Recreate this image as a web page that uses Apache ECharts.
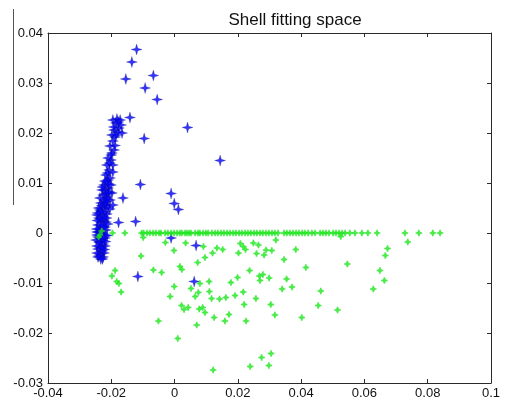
<!DOCTYPE html>
<html><head><meta charset="utf-8">
<script src="https://cdn.jsdelivr.net/npm/echarts@6/dist/echarts.min.js"></script>
<style>html,body{margin:0;padding:0;background:#fff}#c{width:511px;height:403px}</style>
</head><body><div id="c"></div>
<script>
var titleText = 'Shell fitting space';
var xTicks = [-0.04, -0.02, 0, 0.02, 0.04, 0.06, 0.08, 0.1];
var xTickLabels = ['-0.04', '-0.02', '0', '0.02', '0.04', '0.06', '0.08', '0.1'];
var yTicks = [-0.03, -0.02, -0.01, 0, 0.01, 0.02, 0.03, 0.04];
var yTickLabels = ['-0.03', '-0.02', '-0.01', '0', '0.01', '0.02', '0.03', '0.04'];

// blue (*) series: dense cluster near x = -0.022
var blueCluster = [
 [-0.0195,0.0226],[-0.0182,0.0228],[-0.0172,0.0226],[-0.0185,0.0220],[-0.0169,0.0216],[-0.0176,0.0210],
 [-0.0191,0.0206],[-0.0179,0.0202],[-0.0166,0.0200],[-0.0198,0.0196],[-0.0188,0.0192],[-0.0195,0.0184],
 [-0.0204,0.0174],[-0.0191,0.0166],[-0.0198,0.0160],[-0.0210,0.0150],[-0.0201,0.0146],[-0.0195,0.0136],
 [-0.0214,0.0136],[-0.0207,0.0126],[-0.0195,0.0122],[-0.0217,0.0116],[-0.0204,0.0110],[-0.0214,0.0102],
 [-0.0223,0.0096],[-0.0210,0.0090],[-0.0220,0.0086],[-0.0226,0.0076],[-0.0214,0.0072],[-0.0223,0.0066],
 [-0.0233,0.0060],[-0.0217,0.0056],[-0.0226,0.0050],[-0.0236,0.0046],[-0.0220,0.0042],[-0.0229,0.0036],
 [-0.0239,0.0030],[-0.0223,0.0026],[-0.0233,0.0022],[-0.0242,0.0016],[-0.0226,0.0012],[-0.0236,0.0008],
 [-0.0239,0.0002],[-0.0229,-0.0002],[-0.0242,-0.0008],[-0.0233,-0.0012],[-0.0239,-0.0018],[-0.0226,-0.0022],
 [-0.0236,-0.0028],[-0.0242,-0.0032],[-0.0229,-0.0036],[-0.0236,-0.0042],[-0.0226,-0.0048],[-0.0233,-0.0052],
 [-0.0245,-0.0026],[-0.0210,0.0106],[-0.0201,0.0096],[-0.0207,0.0082],[-0.0204,0.0066],[-0.0210,0.0052],
 [-0.0214,0.0038],[-0.0217,0.0022],[-0.0217,0.0006],[-0.0220,-0.0010],[-0.0220,-0.0026],[-0.0223,-0.0040],
 [-0.0245,0.0036],[-0.0245,0.0002],[-0.0248,-0.0014],[-0.0239,-0.0046],[-0.0229,0.0086],[-0.0236,0.0070],
 [-0.0198,0.0080],[-0.0195,0.0056],
 [-0.0240,0.0050],[-0.0230,0.0055],[-0.0222,0.0060],[-0.0215,0.0063],[-0.0243,0.0040],[-0.0232,0.0043],
 [-0.0224,0.0032],[-0.0215,0.0030],[-0.0244,0.0025],[-0.0235,0.0028],[-0.0230,0.0015],[-0.0220,0.0012],
 [-0.0246,0.0008],[-0.0232,0.0000],[-0.0222,-0.0005],[-0.0245,-0.0004],[-0.0236,-0.0018],[-0.0228,-0.0015],
 [-0.0218,-0.0017],[-0.0245,-0.0040],[-0.0230,-0.0030],[-0.0222,-0.0033],[-0.0242,-0.0048],[-0.0228,-0.0052],
 [-0.0218,0.0078],[-0.0228,0.0092],[-0.0208,0.0098],[-0.0212,0.0120],[-0.0205,0.0140],[-0.0200,0.0156],
 [-0.0188,0.0175],[-0.0192,0.0212],[-0.0178,0.0222],[-0.0185,0.0196],[-0.0220,0.0104],[-0.0210,0.0080],
 [-0.0212,0.0068],[-0.0205,0.0048],[-0.0211,0.0018],[-0.0213,-0.0005]
];
var blueOutliers = [
 [-0.0120,0.0367],[-0.0135,0.0342],[-0.0154,0.0308],[-0.0067,0.0315],[-0.0093,0.0290],[-0.0055,0.0267],
 [-0.0141,0.0231],[0.0041,0.0211],[-0.0096,0.0189],[0.0144,0.0145],[-0.0108,0.0097],[-0.0011,0.0079],
 [-0.0001,0.0059],[0.0012,0.0047],[-0.0163,0.0070],[-0.0177,0.0021],[-0.0123,0.0023],[-0.0011,-0.0010],
 [0.0068,-0.0025],[-0.0116,-0.0087],[0.0062,-0.0097]
];
// green (.) series: points lying on y = 0
var greenRowX = [-0.0196,-0.0157,-0.0104,-0.0098,-0.0087,-0.0078,-0.0068,-0.0059,-0.0049,-0.0043,-0.0030,
 -0.0021,-0.0011,-0.0002,0.0008,0.0017,0.0023,0.0033,0.0039,0.0046,0.0052,0.0065,0.0074,0.0080,0.0090,
 0.0099,0.0106,0.0118,0.0128,0.0137,0.0147,0.0156,0.0166,0.0175,0.0185,0.0194,0.0204,0.0213,0.0223,
 0.0232,0.0241,0.0251,0.0260,0.0270,0.0279,0.0289,0.0298,0.0308,0.0317,0.0327,0.0346,0.0355,0.0365,
 0.0374,0.0384,0.0393,0.0403,0.0412,0.0422,0.0434,0.0444,0.0460,0.0469,0.0478,0.0488,0.0501,0.0510,
 0.0520,0.0529,0.0539,0.0554,0.0570,0.0592,0.0611,0.0640,0.0728,0.0772,0.0816,0.0839];
var greenRowY = 0;
// green points below the row
var greenScatter = [
 [-0.0236,-0.0004],[-0.0230,0.0004],[-0.0240,-0.0008],
 [-0.0198,-0.0086],[-0.0188,-0.0075],[-0.0183,-0.0097],[-0.0176,-0.0101],[-0.0169,-0.0118],
 [-0.0106,-0.0046],[-0.0099,-0.0009],[-0.0067,-0.0074],[-0.0041,-0.0079],[-0.0029,-0.0019],
 [-0.0002,-0.0035],[0.0017,-0.0067],[0.0023,-0.0073],[0.0035,-0.0020],[0.0073,-0.0059],
 [0.0096,-0.0049],[0.0091,-0.0027],[0.0120,-0.0040],[0.0134,-0.0030],[0.0152,-0.0033],
 [0.0202,-0.0040],[0.0208,-0.0021],[0.0217,-0.0027],[0.0224,-0.0033],[0.0249,-0.0020],
 [0.0265,-0.0024],[0.0259,-0.0041],[0.0283,-0.0044],[0.0289,-0.0034],[0.0307,-0.0035],
 [0.0320,-0.0014],[0.0346,-0.0053],[0.0383,-0.0033],[0.0415,-0.0069],[0.0525,-0.0007],
 [0.0546,-0.0062],[0.0666,-0.0045],[0.0673,-0.0031],[0.0649,-0.0075],[0.0663,-0.0095],
 [0.0628,-0.0112],[0.0737,-0.0018],
 [0.0237,-0.0075],[0.0268,-0.0086],[0.0279,-0.0083],[0.0270,-0.0095],[0.0299,-0.0090],
 [0.0199,-0.0089],[0.0178,-0.0099],[0.0109,-0.0097],[0.0080,-0.0101],[0.0110,-0.0117],
 [0.0117,-0.0131],[0.0142,-0.0132],[0.0162,-0.0129],[0.0191,-0.0125],[0.0217,-0.0118],
 [0.0257,-0.0131],[0.0340,-0.0112],[0.0354,-0.0092],[0.0371,-0.0108],[0.0462,-0.0116],
 [-0.0001,-0.0107],[-0.0014,-0.0127],[0.0052,-0.0111],[0.0075,-0.0119],[0.0065,-0.0127],
 [0.0022,-0.0145],[0.0030,-0.0153],[0.0043,-0.0149],[0.0078,-0.0152],[0.0089,-0.0149],
 [0.0096,-0.0159],[0.0220,-0.0143],[0.0304,-0.0143],[0.0317,-0.0164],[0.0402,-0.0169],
 [0.0454,-0.0145],[0.0515,-0.0154],[-0.0051,-0.0176],[0.0010,-0.0211],[0.0070,-0.0184],
 [0.0125,-0.0169],[0.0159,-0.0176],[0.0172,-0.0163],[0.0226,-0.0176],
 [0.0122,-0.0274],[0.0239,-0.0267],[0.0275,-0.0249],[0.0305,-0.0241],[0.0298,-0.0265]
];

var starPath = 'path://M5,0 L6.1,3.9 L10,5 L6.1,6.1 L5,10 L3.9,6.1 L0,5 L3.9,3.9 Z';
var dotPath = 'path://M3,0 L5,0 L5,1.5 L6.5,3 L8,3 L8,5 L6.5,5 L5,6.5 L5,8 L3,8 L3,6.5 L1.5,5 L0,5 L0,3 L1.5,3 L3,1.5 Z';

function lbl(ticks, labels) {
  return function (v) {
    for (var i = 0; i < ticks.length; i++) if (Math.abs(ticks[i] - v) < 1e-9) return labels[i];
    return '';
  };
}
var axisCommon = {
  axisLine: { show: true, onZero: false, lineStyle: { color: '#2a2a2a', width: 1 } },
  axisTick: { show: true, inside: true, length: 4, lineStyle: { color: '#2a2a2a' } },
  splitLine: { show: false }
};
var greenRow = greenRowX.map(function (x) { return [x, greenRowY]; });

var chart = echarts.init(document.getElementById('c'), null, { renderer: 'canvas' });
chart.setOption({
  animation: false,
  backgroundColor: '#ffffff',
  title: { text: titleText, left: 290, top: 7, textAlign: 'center',
    textStyle: { fontFamily: 'Liberation Sans, Arial, sans-serif', fontSize: 17, fontWeight: 'normal', color: '#111' } },
  grid: { left: 48, right: 20, top: 33, bottom: 20, containLabel: false, outerBoundsMode: 'none' },
  xAxis: [
    Object.assign({ type: 'value', position: 'bottom', min: -0.04, max: 0.1, interval: 0.02,
      axisLabel: { formatter: lbl(xTicks, xTickLabels), margin: 4, fontSize: 13, color: '#111',
        fontFamily: 'Liberation Sans, Arial, sans-serif' } }, axisCommon),
    Object.assign({ type: 'value', position: 'top', min: -0.04, max: 0.1, interval: 0.02,
      axisLabel: { show: false } }, axisCommon)
  ],
  yAxis: [
    Object.assign({ type: 'value', position: 'left', min: -0.03, max: 0.04, interval: 0.01,
      axisLabel: { formatter: lbl(yTicks, yTickLabels), margin: 5, fontSize: 13, color: '#111',
        fontFamily: 'Liberation Sans, Arial, sans-serif' } }, axisCommon),
    Object.assign({ type: 'value', position: 'right', min: -0.03, max: 0.04, interval: 0.01,
      axisLabel: { show: false } }, axisCommon)
  ],
  graphic: [{ type: 'line', shape: { x1: 13.5, y1: 9, x2: 13.5, y2: 205 },
    style: { stroke: '#555', lineWidth: 1 } }],
  series: [
    { type: 'scatter', name: 'blue', data: blueCluster.concat(blueOutliers), symbol: starPath, symbolSize: 11,
      itemStyle: { color: '#0000ff', borderColor: '#10106e', borderWidth: 0.3 } },
    { type: 'scatter', name: 'green', data: greenRow.concat(greenScatter), symbol: dotPath, symbolSize: 6.5,
      itemStyle: { color: '#1fe61f' } }
  ]
});
</script></body></html>
